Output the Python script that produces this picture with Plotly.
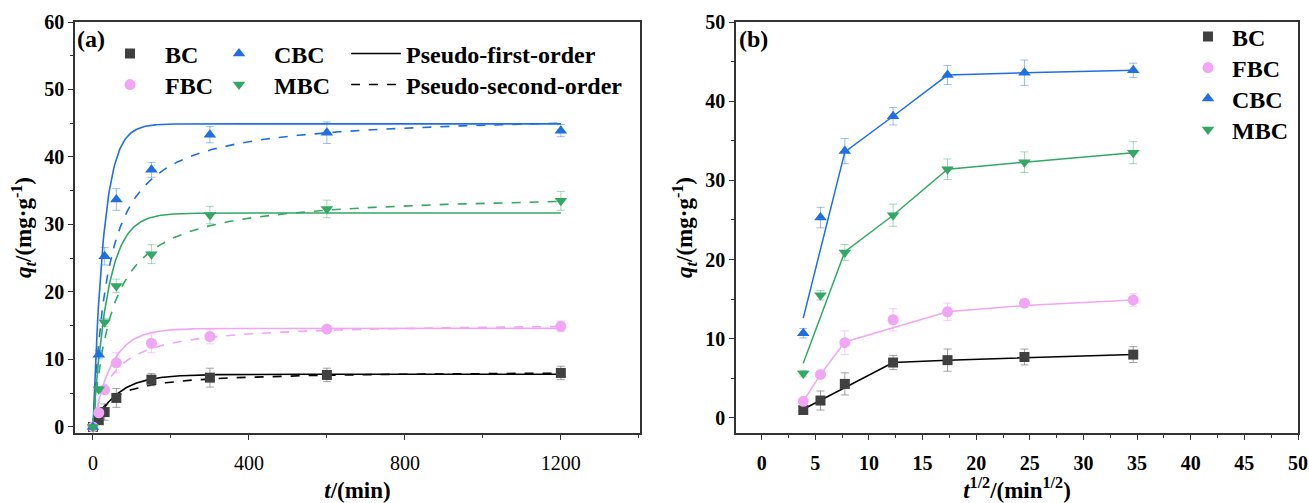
import numpy as np
import plotly.graph_objects as go

# ---------------- data ----------------
t_min = [0, 15, 30, 60, 150, 300, 600, 1200]
samples = ["BC", "FBC", "CBC", "MBC"]
q_BC = [0, 1.0, 2.2, 4.3, 7.0, 7.3, 7.7, 8.0]
q_FBC = [0, 2.1, 5.5, 9.5, 12.4, 13.4, 14.5, 14.9]
q_CBC = [0, 10.7, 25.3, 33.7, 38.1, 43.3, 43.6, 43.9]
q_MBC = [0, 5.6, 15.5, 20.9, 25.6, 31.4, 32.3, 33.5]
err_BC = [0, 0.4, 1.2, 1.4, 0.9, 1.4, 1.0, 1.0]
err_FBC = [0, 0.3, 0.4, 1.5, 1.4, 1.1, 0.4, 0.8]
err_CBC = [0, 0.6, 1.3, 1.6, 1.1, 1.2, 1.6, 0.9]
err_MBC = [0, 0.4, 0.6, 1.0, 1.4, 1.3, 1.3, 1.4]

# pseudo-first-order parameters (qe, k1)
pfo_qe = [7.8, 14.6, 44.9, 31.7]
pfo_k1 = [0.016, 0.021, 0.036, 0.026]
# pseudo-second-order parameters (qe, half-time 1/(qe*k2))
pso_qe = [8.3, 15.5, 46.5, 34.8]
pso_th = [50, 50, 40, 50]

# intraparticle diffusion multilinear fits (x = t^0.5)
ipd_BC_x = [3.87, 12.25, 17.32, 24.49, 34.64]
ipd_BC_y = [1.1, 7.0, 7.3, 7.6, 8.0]
ipd_FBC_x = [3.87, 5.48, 7.75, 17.32, 24.49, 34.64]
ipd_FBC_y = [2.1, 5.5, 9.6, 13.4, 14.2, 14.9]
ipd_CBC_x = [3.87, 7.75, 12.25, 17.32, 24.49, 34.64]
ipd_CBC_y = [12.6, 33.6, 38.1, 43.3, 43.6, 43.9]
ipd_MBC_x = [3.87, 7.75, 12.25, 17.32, 24.49, 34.64]
ipd_MBC_y = [6.9, 21.0, 25.6, 31.4, 32.3, 33.5]

colors = {"BC": "#404040", "FBC": "#f0a6f5", "CBC": "#1f6fe0", "MBC": "#33a864"}
line_colors = {"BC": "#000000", "FBC": "#f0a6f5", "CBC": "#1f6fe0", "MBC": "#33a864"}
err_colors = {"BC": "rgba(90,90,90,0.55)", "FBC": "rgba(240,166,245,0.6)",
              "CBC": "rgba(31,111,224,0.45)", "MBC": "rgba(51,168,100,0.45)"}
symbols = {"BC": "square", "FBC": "circle", "CBC": "triangle-up", "MBC": "triangle-down"}
sizes = {"BC": 10, "FBC": 11, "CBC": 11, "MBC": 11}

qdata = {"BC": q_BC, "FBC": q_FBC, "CBC": q_CBC, "MBC": q_MBC}
edata = {"BC": err_BC, "FBC": err_FBC, "CBC": err_CBC, "MBC": err_MBC}
ipd = {"BC": (ipd_BC_x, ipd_BC_y), "FBC": (ipd_FBC_x, ipd_FBC_y),
       "CBC": (ipd_CBC_x, ipd_CBC_y), "MBC": (ipd_MBC_x, ipd_MBC_y)}

FONT = "Liberation Serif"

W, H = 1309, 503
ML, MR, MT, MB = 75, 11, 22, 70
PW = W - ML - MR
PH = H - MT - MB


def px(xp):
    return (xp - ML) / PW


def py(yp):
    return (H - MB - yp) / PH


fig = go.Figure()

tt = np.linspace(0, 1200, 600)
for i, s in enumerate(samples):
    y1 = pfo_qe[i] * (1 - np.exp(-pfo_k1[i] * tt))
    y2 = pso_qe[i] * tt / (tt + pso_th[i])
    fig.add_trace(go.Scatter(x=tt, y=y1, mode="lines", xaxis="x", yaxis="y",
                             line=dict(color=line_colors[s], width=1.6), showlegend=False))
    fig.add_trace(go.Scatter(x=tt, y=y2, mode="lines", xaxis="x", yaxis="y",
                             line=dict(color=line_colors[s], width=1.6, dash="dash"), showlegend=False))

# one legend box per entry (grid layout of the reference)
legend_cfg = {}
legend_common = dict(xanchor="left", yanchor="middle", bgcolor="rgba(0,0,0,0)",
                     font=dict(family=FONT, size=24))
left_pos = {"BC": (95, 54), "FBC": (95, 85), "CBC": (204, 54), "MBC": (204, 85)}
right_pos = {"BC": (1184, 37), "FBC": (1184, 68), "CBC": (1184, 99), "MBC": (1184, 130)}

n = 1
for s in samples:
    key = "legend" if n == 1 else f"legend{n}"
    legend_cfg[key] = dict(x=px(left_pos[s][0]), y=py(left_pos[s][1]), itemwidth=60, **legend_common)
    fig.add_trace(go.Scatter(x=t_min, y=qdata[s], mode="markers", xaxis="x", yaxis="y",
                             name=s, legend=key,
                             marker=dict(symbol=symbols[s], size=sizes[s], color=colors[s]),
                             error_y=dict(type="data", array=edata[s], color=err_colors[s],
                                          thickness=1, width=4)))
    n += 1

model_names = ["Pseudo-first-order", "Pseudo-second-order"]
model_dash = ["solid", "dash"]
for j, nm in enumerate(model_names):
    key = f"legend{n}"
    legend_cfg[key] = dict(x=px(346), y=py(54 + 31 * j), itemwidth=50, **legend_common)
    fig.add_trace(go.Scatter(x=[None], y=[None], mode="lines", name=nm, legend=key,
                             line=dict(color="black", width=1.5, dash=model_dash[j]),
                             xaxis="x", yaxis="y"))
    n += 1

# right panel
sq = [float(np.sqrt(v)) for v in t_min[1:]]
for s in samples:
    fx, fy = ipd[s]
    fig.add_trace(go.Scatter(x=fx, y=fy, mode="lines", xaxis="x2", yaxis="y2",
                             line=dict(color=line_colors[s], width=1.5), showlegend=False))
for s in samples:
    key = f"legend{n}"
    legend_cfg[key] = dict(x=px(right_pos[s][0]), y=py(right_pos[s][1]), itemwidth=38, **legend_common)
    fig.add_trace(go.Scatter(x=sq, y=qdata[s][1:], mode="markers", xaxis="x2", yaxis="y2",
                             name=s, legend=key,
                             marker=dict(symbol=symbols[s], size=sizes[s], color=colors[s]),
                             error_y=dict(type="data", array=edata[s][1:], color=err_colors[s],
                                          thickness=1, width=4)))
    n += 1

axis_common = dict(showline=True, linecolor="#333", linewidth=1.5, mirror=True,
                   ticks="outside", ticklen=5, tickcolor="#333", showgrid=False, zeroline=False,
                   tickfont=dict(family=FONT, size=20, color="black"),
                   tickprefix="<b>", ticksuffix="</b>", automargin=False)

L0, L1 = 0.0, px(640)
R0, R1 = px(736), 1.0

fig.update_layout(
    width=W, height=H,
    margin=dict(l=ML, r=MR, t=MT, b=MB),
    paper_bgcolor="white", plot_bgcolor="white",
    font=dict(family=FONT, color="black"),
    xaxis=dict(domain=[L0, L1], range=[-46, 1403], tickvals=[0, 400, 800, 1200],
               minor=dict(ticks="outside", ticklen=3, dtick=200, tickcolor="#333"),
               title=dict(text="<b><i>t</i>/(min)</b>", font=dict(size=23), standoff=14),
               ticklabelstandoff=6, anchor="y", **axis_common),
    yaxis=dict(domain=[0, 1], range=[-0.9, 60], dtick=10,
               minor=dict(ticks="outside", ticklen=3, dtick=5, tickcolor="#333"),
               title=dict(text="<b><i>q<sub>t</sub></i>/(mg·g<sup>-1</sup>)</b>", font=dict(size=23), standoff=6),
               anchor="x", **axis_common),
    xaxis2=dict(domain=[R0, R1], range=[-2.4, 50], dtick=5,
                minor=dict(ticks="outside", ticklen=3, dtick=2.5, tickcolor="#333"),
                title=dict(text="<b><i>t</i><sup>1/2</sup>/(min<sup>1/2</sup>)</b>", font=dict(size=23), standoff=14),
                ticklabelstandoff=6, anchor="y2", **axis_common),
    yaxis2=dict(domain=[0, 1], range=[-1.9, 50], dtick=10,
                minor=dict(ticks="outside", ticklen=3, dtick=5, tickcolor="#333"),
                title=dict(text="<b><i>q<sub>t</sub></i>/(mg·g<sup>-1</sup>)</b>", font=dict(size=23), standoff=6),
                anchor="x2", **axis_common),
    annotations=[
        dict(text="<b>(a)</b>", x=px(75), y=py(24), xref="paper", yref="paper",
             xanchor="left", yanchor="top", showarrow=False, font=dict(size=24)),
        dict(text="<b>(b)</b>", x=px(737), y=py(24), xref="paper", yref="paper",
             xanchor="left", yanchor="top", showarrow=False, font=dict(size=24)),
    ],
)
fig.update_layout(**legend_cfg)

# bold legend text
for tr in fig.data:
    if tr.name:
        tr.name = "<b>" + tr.name + "</b>"

fig.write_html("out.html", post_script="document.body.style.margin='0px';",
               config={"displayModeBar": False})
